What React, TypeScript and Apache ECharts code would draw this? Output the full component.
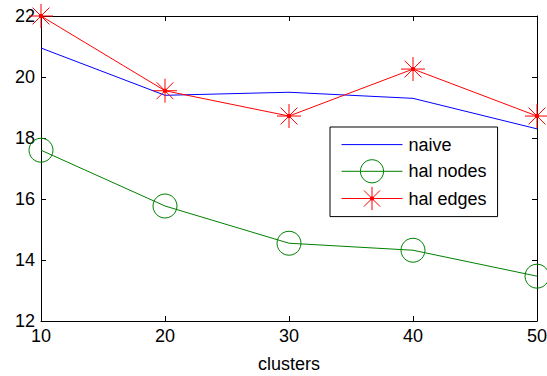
import React, { useEffect, useRef } from "react";
import * as echarts from "echarts";

const clusters = [10, 20, 30, 40, 50];
const naive = [20.95, 19.4, 19.5, 19.3, 18.3];
const halNodes = [17.6, 15.77, 14.55, 14.32, 13.47];
const halEdges = [22.0, 19.55, 18.72, 20.26, 18.72];
const yTicks = { min: 12, max: 22, interval: 2 };
const xTicks = { min: 10, max: 50, interval: 10 };

const FONT = "'Liberation Sans', Arial, sans-serif";
const STAR =
  "path://M0,-10L0,10M-10,0L10,0M-7,-7L7,7M-7,7L7,-7M-1.2,-1.2L1.2,-1.2L1.2,1.2L-1.2,1.2Z";

const pairs = (ys: number[]) => clusters.map((x, i) => [x, ys[i]]);

export default function App() {
  const ref = useRef<HTMLDivElement>(null);
  useEffect(() => {
    if (!ref.current) return;
    const chart = echarts.init(ref.current, null, { renderer: "svg" });
    const axisCommon = {
      type: "value" as const,
      axisLine: { show: true, onZero: false, lineStyle: { color: "#000", width: 1 } },
      axisTick: { show: true, inside: true, length: 5, lineStyle: { color: "#000" } },
      splitLine: { show: false },
    };
    chart.setOption({
      animation: false,
      backgroundColor: "#fff",
      grid: { left: 41, right: 10, top: 16, bottom: 55, outerBoundsMode: "none" },
      xAxis: [
        {
          ...axisCommon,
          ...xTicks,
          position: "bottom",
          name: "clusters",
          nameLocation: "middle",
          nameGap: 34,
          nameTextStyle: { fontFamily: FONT, fontSize: 18, color: "#000" },
          axisLabel: { fontFamily: FONT, fontSize: 18, color: "#000", margin: 6 },
        },
        { ...axisCommon, ...xTicks, position: "top", axisLabel: { show: false } },
      ],
      yAxis: [
        {
          ...axisCommon,
          ...yTicks,
          position: "left",
          axisLabel: { fontFamily: FONT, fontSize: 18, color: "#000", margin: 6 },
        },
        { ...axisCommon, ...yTicks, position: "right", axisLabel: { show: false } },
      ],
      legend: {
        orient: "vertical",
        left: 330,
        top: 127,
        padding: [6, 11, 6, 11],
        itemWidth: 61,
        itemHeight: 29,
        itemGap: 3,
        borderColor: "#000",
        borderWidth: 1,
        backgroundColor: "#fff",
        borderRadius: 0,
        lineStyle: { width: 1 },
        itemStyle: { borderWidth: 1 },
        textStyle: { fontFamily: FONT, fontSize: 18, color: "#000", padding: [0, 0, 0, 1] },
        data: [
          { name: "naive", itemStyle: { opacity: 0 } },
          { name: "hal nodes" },
          { name: "hal edges" },
        ],
      },
      series: [
        {
          name: "naive",
          type: "line",
          data: pairs(naive),
          symbol: "none",
          color: "#0000ff",
          lineStyle: { color: "#0000ff", width: 1 },
        },
        {
          name: "hal nodes",
          type: "line",
          data: pairs(halNodes),
          symbol: "circle",
          symbolSize: 24,
          color: "#008000",
          itemStyle: { color: "transparent", borderColor: "#008000", borderWidth: 1 },
          lineStyle: { color: "#008000", width: 1 },
        },
        {
          name: "hal edges",
          type: "line",
          data: pairs(halEdges),
          symbol: STAR,
          symbolSize: 24,
          color: "#ff0000",
          itemStyle: { color: "#ff0000", borderColor: "#ff0000", borderWidth: 1 },
          lineStyle: { color: "#ff0000", width: 1 },
        },
      ],
    });
    return () => chart.dispose();
  }, []);
  return (
    <div
      ref={ref}
      style={{ position: "fixed", left: 0, top: 0, width: 547, height: 376 }}
    />
  );
}
